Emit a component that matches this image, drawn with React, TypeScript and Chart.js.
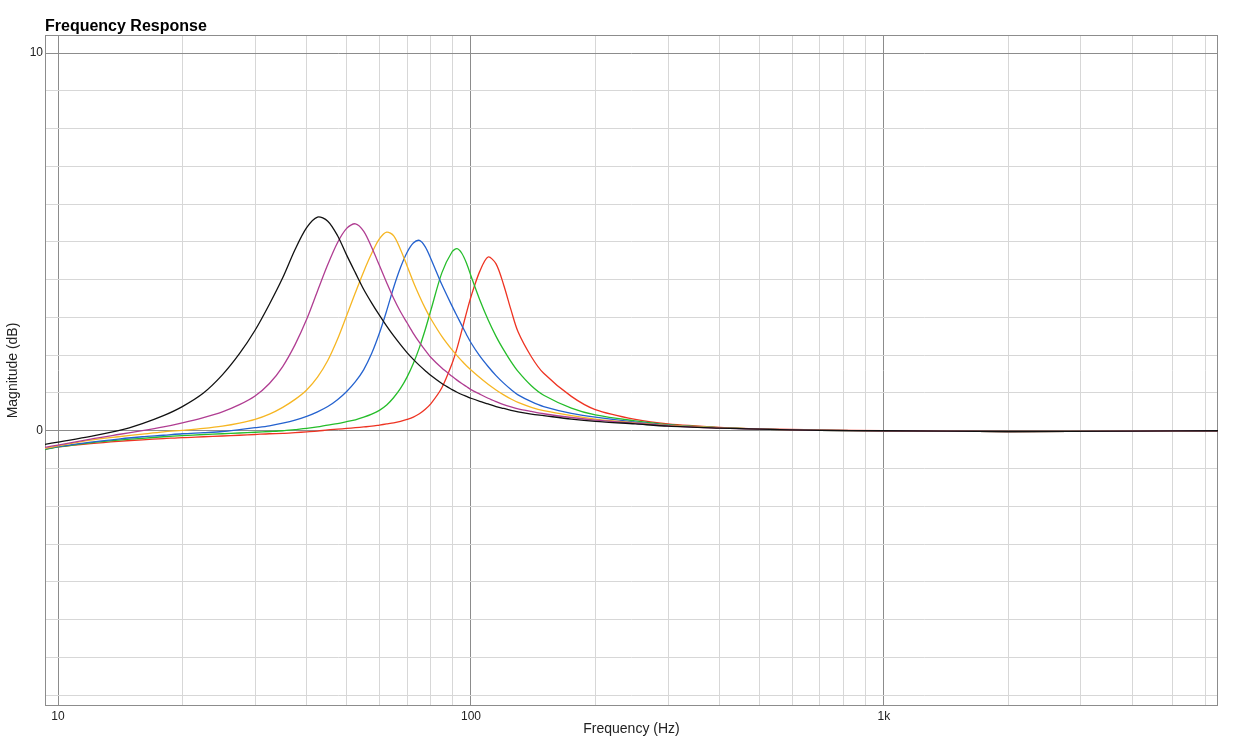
import React, { useEffect, useRef } from 'react';
import { Chart, registerables } from 'chart.js';

Chart.register(...registerables);

// Frequencies (Hz) at which the curves were read
const FREQS = [9.3, 10, 12, 14, 16, 18, 20, 22.5, 25, 27.5, 30, 32.5, 35, 37.5, 40, 42.5, 45, 47.5, 50, 52.5, 55, 57.5, 60, 62.5, 65, 67.5, 70, 72.5, 75, 77.5, 80, 85, 90, 92.5, 95, 97.5, 100, 105, 110, 115, 120, 125, 130, 140, 150, 175, 200, 250, 300, 400, 500, 700, 1000, 2000, 4000, 6440];

// Magnitude (dB) of each curve at FREQS
const BLACK_DB = [-0.36, -0.30, -0.15, 0.00, 0.19, 0.40, 0.64, 1.00, 1.48, 2.04, 2.66, 3.35, 4.05, 4.80, 5.38, 5.66, 5.55, 5.17, 4.65, 4.18, 3.74, 3.38, 3.06, 2.77, 2.51, 2.28, 2.07, 1.89, 1.73, 1.59, 1.46, 1.25, 1.09, 1.02, 0.96, 0.91, 0.86, 0.78, 0.71, 0.64, 0.59, 0.54, 0.50, 0.44, 0.40, 0.31, 0.25, 0.18, 0.12, 0.07, 0.04, 0.01, 0.00, -0.02, -0.01, 0.00];
const MAGENTA_DB = [-0.44, -0.38, -0.22, -0.10, 0.00, 0.10, 0.21, 0.35, 0.50, 0.69, 0.92, 1.25, 1.70, 2.28, 2.95, 3.70, 4.40, 4.98, 5.36, 5.48, 5.28, 4.85, 4.38, 3.92, 3.50, 3.15, 2.86, 2.58, 2.34, 2.13, 1.94, 1.66, 1.44, 1.34, 1.25, 1.17, 1.09, 0.97, 0.86, 0.77, 0.69, 0.63, 0.58, 0.51, 0.45, 0.35, 0.28, 0.20, 0.13, 0.07, 0.04, 0.01, 0.00, -0.02, -0.01, 0.00];
const ORANGE_DB = [-0.47, -0.40, -0.25, -0.16, -0.09, -0.03, 0.01, 0.06, 0.12, 0.20, 0.30, 0.44, 0.62, 0.83, 1.08, 1.42, 1.86, 2.42, 3.05, 3.66, 4.22, 4.70, 5.08, 5.26, 5.16, 4.80, 4.37, 3.94, 3.57, 3.24, 2.96, 2.50, 2.14, 1.99, 1.85, 1.72, 1.61, 1.41, 1.23, 1.08, 0.95, 0.84, 0.75, 0.62, 0.53, 0.40, 0.31, 0.21, 0.14, 0.08, 0.04, 0.01, 0.00, -0.02, -0.01, 0.00];
const BLUE_DB = [-0.48, -0.42, -0.30, -0.22, -0.16, -0.12, -0.08, -0.05, -0.02, 0.03, 0.08, 0.13, 0.20, 0.28, 0.38, 0.50, 0.64, 0.82, 1.04, 1.30, 1.62, 2.05, 2.58, 3.18, 3.80, 4.32, 4.72, 4.97, 5.04, 4.87, 4.55, 3.87, 3.30, 3.04, 2.79, 2.55, 2.33, 1.98, 1.70, 1.46, 1.26, 1.09, 0.95, 0.77, 0.64, 0.46, 0.36, 0.23, 0.15, 0.08, 0.04, 0.01, 0.00, -0.02, -0.01, 0.00];
const GREEN_DB = [-0.50, -0.43, -0.32, -0.25, -0.20, -0.16, -0.13, -0.10, -0.08, -0.06, -0.04, -0.02, 0.00, 0.03, 0.06, 0.10, 0.15, 0.19, 0.24, 0.29, 0.36, 0.44, 0.54, 0.68, 0.88, 1.12, 1.42, 1.78, 2.20, 2.68, 3.20, 4.18, 4.74, 4.82, 4.70, 4.44, 4.10, 3.47, 2.94, 2.50, 2.14, 1.83, 1.57, 1.19, 0.94, 0.60, 0.42, 0.26, 0.16, 0.08, 0.04, 0.01, 0.00, -0.02, -0.01, 0.00];
const RED_DB = [-0.49, -0.43, -0.34, -0.28, -0.24, -0.21, -0.18, -0.16, -0.14, -0.12, -0.10, -0.08, -0.07, -0.05, -0.03, -0.01, 0.02, 0.04, 0.06, 0.08, 0.10, 0.12, 0.15, 0.18, 0.21, 0.25, 0.30, 0.36, 0.45, 0.57, 0.72, 1.14, 1.78, 2.18, 2.65, 3.12, 3.55, 4.22, 4.60, 4.42, 3.86, 3.20, 2.62, 1.96, 1.52, 0.91, 0.56, 0.30, 0.18, 0.09, 0.05, 0.02, 0.00, -0.02, -0.01, 0.00];

// Axes
const X_MIN = 9.3;
const X_MAX = 6440;
const Y_MIN = -7.29;
const Y_MAX = 10.48;
const X_GRID_TICKS = [10, 20, 30, 40, 50, 60, 70, 80, 90, 100, 200, 300, 400, 500, 600, 700, 800, 900, 1000, 2000, 3000, 4000, 5000, 6000];
const X_MAJOR_TICKS = [10, 100, 1000];
const X_TICK_LABELS = ['10', '100', '1k'];
const Y_GRID_TICKS = [-7, -6, -5, -4, -3, -2, -1, 0, 1, 2, 3, 4, 5, 6, 7, 8, 9, 10];
const Y_MAJOR_TICKS = [0, 10];
const Y_TICK_LABELS = ['0', '10'];

const TITLE = 'Frequency Response';
const X_TITLE = 'Frequency (Hz)';
const Y_TITLE = 'Magnitude (dB)';

const SERIES = [
  { name: 'Black', values: BLACK_DB, color: '#111111' },
  { name: 'Magenta', values: MAGENTA_DB, color: '#b03d92' },
  { name: 'Orange', values: ORANGE_DB, color: '#f6b623' },
  { name: 'Blue', values: BLUE_DB, color: '#2462cf' },
  { name: 'Green', values: GREEN_DB, color: '#25bd2a' },
  { name: 'Red', values: RED_DB, color: '#ee3322' },
];

const FONT = '"Liberation Sans", Arial, Helvetica, sans-serif';
const MAJOR_GRID = '#8c8c8c';
const MINOR_GRID = '#d7d7d7';

export default function App() {
  const canvasRef = useRef<HTMLCanvasElement | null>(null);

  useEffect(() => {
    if (!canvasRef.current) return;
    Chart.defaults.font.family = FONT;

    const frame = {
      id: 'frameAndTitle',
      beforeDatasetsDraw(chart: any) {
        const { ctx, chartArea } = chart;
        ctx.save();
        ctx.strokeStyle = MAJOR_GRID;
        ctx.lineWidth = 1;
        const l = Math.round(chartArea.left) + 0.5;
        const t = Math.round(chartArea.top) + 0.5;
        const r = Math.round(chartArea.right) - 0.5;
        const b = Math.round(chartArea.bottom) - 0.5;
        ctx.strokeRect(l, t, r - l, b - t);
        ctx.restore();
      },
      afterDraw(chart: any) {
        const { ctx, chartArea } = chart;
        ctx.save();
        ctx.font = `bold 16px ${FONT}`;
        ctx.fillStyle = '#000';
        ctx.textAlign = 'left';
        ctx.textBaseline = 'alphabetic';
        ctx.fillText(TITLE, chartArea.left, 31);
        ctx.restore();
      },
    };

    const chart = new Chart(canvasRef.current, {
      type: 'line',
      data: {
        datasets: SERIES.map((s) => ({
          label: s.name,
          data: FREQS.map((f, i) => ({ x: f, y: s.values[i] })),
          borderColor: s.color,
          backgroundColor: s.color,
          borderWidth: 1.3,
          pointRadius: 0,
          fill: false,
          tension: 0.3,
        })),
      },
      options: {
        animation: false,
        responsive: true,
        maintainAspectRatio: false,
        layout: { padding: { top: 35, right: 33, bottom: 0, left: 0 } },
        plugins: {
          legend: { display: false },
          tooltip: { enabled: false },
          title: { display: false },
        },
        scales: {
          x: {
            type: 'logarithmic',
            min: X_MIN,
            max: X_MAX,
            afterBuildTicks: (scale: any) => {
              scale.ticks = X_GRID_TICKS.map((v) => ({ value: v }));
            },
            afterFit: (scale: any) => {
              scale.height = 39;
            },
            ticks: {
              autoSkip: false,
              maxRotation: 0,
              minRotation: 0,
              padding: 3,
              color: '#222',
              font: { size: 12, family: FONT },
              callback: (value: any) => {
                const i = X_MAJOR_TICKS.indexOf(Number(value));
                return i >= 0 ? X_TICK_LABELS[i] : '';
              },
            },
            grid: {
              drawTicks: false,
              lineWidth: 1,
              color: (ctx: any) =>
                ctx.tick && X_MAJOR_TICKS.includes(ctx.tick.value) ? MAJOR_GRID : MINOR_GRID,
            },
            border: { display: false },
            title: {
              display: true,
              text: X_TITLE,
              color: '#222',
              font: { size: 14, family: FONT },
              padding: { top: 0, bottom: 7.6 },
            },
          },
          y: {
            type: 'linear',
            min: Y_MIN,
            max: Y_MAX,
            afterBuildTicks: (scale: any) => {
              scale.ticks = Y_GRID_TICKS.map((v) => ({ value: v }));
            },
            afterFit: (scale: any) => {
              scale.width = 45;
            },
            ticks: {
              autoSkip: false,
              padding: 2,
              color: '#222',
              font: { size: 12, family: FONT },
              callback: (value: any) => {
                const i = Y_MAJOR_TICKS.indexOf(Number(value));
                return i >= 0 ? Y_TICK_LABELS[i] : '';
              },
            },
            grid: {
              drawTicks: false,
              lineWidth: 1,
              color: (ctx: any) =>
                ctx.tick && Y_MAJOR_TICKS.includes(ctx.tick.value) ? MAJOR_GRID : MINOR_GRID,
            },
            border: { display: false },
            title: {
              display: true,
              text: Y_TITLE,
              color: '#222',
              font: { size: 14, family: FONT },
              padding: { top: 4.6, bottom: 0 },
            },
          },
        },
      },
      plugins: [frame],
    } as any);

    return () => chart.destroy();
  }, []);

  return (
    <div style={{ position: 'fixed', left: 0, top: 0, width: 1251, height: 745, background: '#fff' }}>
      <canvas ref={canvasRef} />
    </div>
  );
}
